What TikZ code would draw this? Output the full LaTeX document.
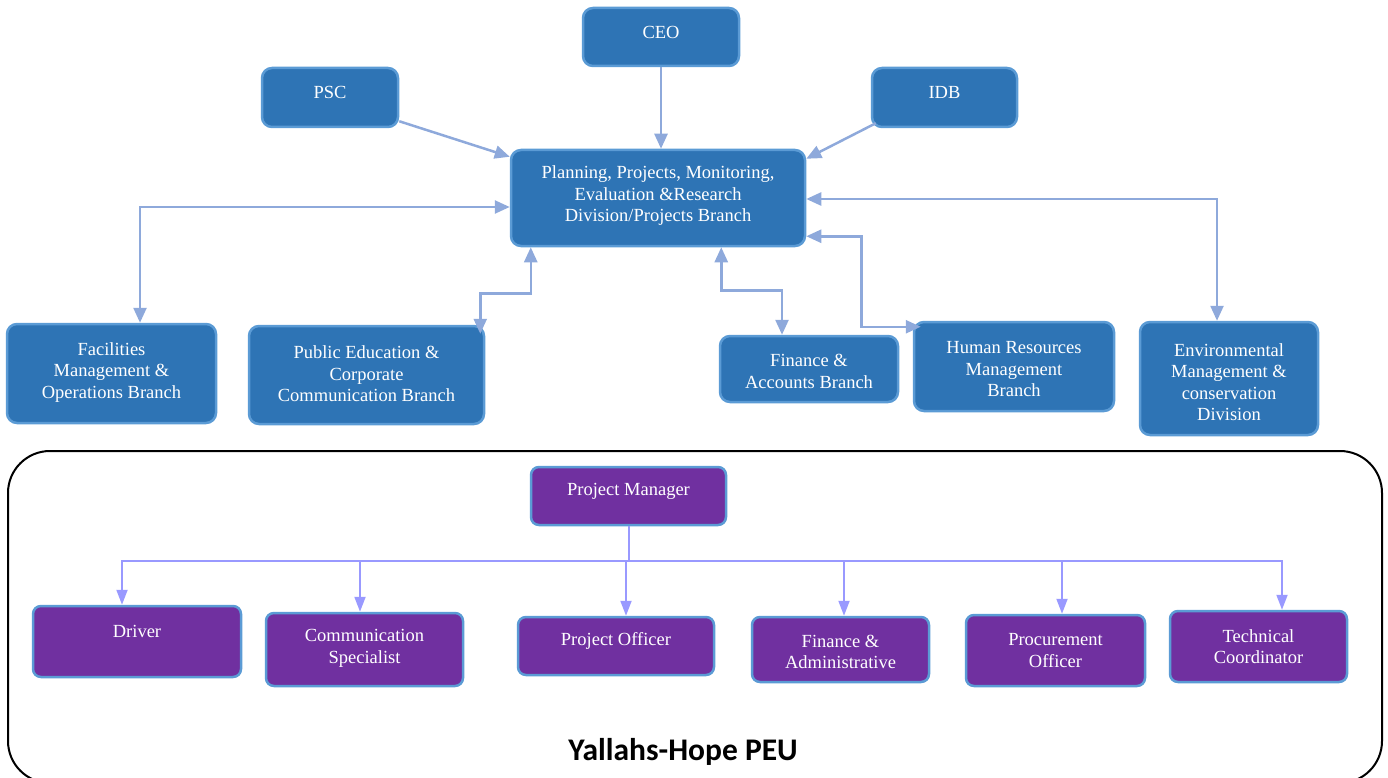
\documentclass[tikz,border=0pt]{standalone}
\usepackage{fontspec}
\setmainfont{Liberation Serif}
\newfontfamily\calib{Carlito}
\usetikzlibrary{arrows.meta,calc}
\definecolor{bfill}{HTML}{2E74B5}
\definecolor{bline}{HTML}{5B9BD5}
\definecolor{pfill}{HTML}{7030A0}
\definecolor{arrc}{HTML}{8EA9DB}
\definecolor{busc}{HTML}{9999FF}
\tikzset{
  bluebox/.style={draw=bline, fill=bfill, line width=2.5pt, rounded corners=10pt, inner sep=0pt},
  purplebox/.style={draw=bline, fill=pfill, line width=2.5pt, rounded corners=8pt, inner sep=0pt},
  wtxt/.style={text=white, align=center, inner sep=0pt, font=\rmfamily\fontsize{18.5}{21.5}\selectfont},
  conn/.style={draw=arrc, line width=2.5pt, -{Triangle[length=15pt,width=13pt]}},
  conn2/.style={draw=arrc, line width=2.5pt, {Triangle[length=15pt,width=13pt]}-{Triangle[length=15pt,width=13pt]}},
  busline/.style={draw=busc, line width=2pt, -{Triangle[length=15pt,width=11pt]}},
}
\begin{document}
\begin{tikzpicture}[x=1pt,y=-1pt]
\useasboundingbox (0,0) rectangle (1388,778);
% top blue boxes
\node[bluebox, minimum width=156pt, minimum height=58pt] (ceo) at (661,37) {};
\node[wtxt] (ceot) at (661,32) {CEO};
\node[bluebox, minimum width=136pt, minimum height=59pt] (psc) at (330,97.5) {};
\node[wtxt] (psct) at (330,92) {PSC};
\node[bluebox, minimum width=145pt, minimum height=59pt] (idb) at (944.5,97.5) {};
\node[wtxt] (idbt) at (944.5,92) {IDB};
\node[bluebox, minimum width=294pt, minimum height=96pt] (plan) at (658,198) {};
\node[wtxt] (plant) at (658,196) {Planning, Projects, Monitoring,\\Evaluation \&Research\\Division/Projects Branch};
\node[bluebox, minimum width=209pt, minimum height=99pt] (fac) at (111.5,373.5) {};
\node[wtxt] (fact) at (111.5,372.5) {Facilities\\Management \&\\Operations Branch};
\node[bluebox, minimum width=235pt, minimum height=98pt] (pub) at (366.5,375) {};
\node[wtxt] (pubt) at (366.5,374) {Public Education \&\\Corporate\\Communication Branch};
\node[bluebox, minimum width=178pt, minimum height=66pt] (fin) at (809,369) {};
\node[wtxt] (fint) at (809,371.5) {Finance \&\\Accounts Branch};
\node[bluebox, minimum width=200pt, minimum height=89pt] (hr) at (1014,366.5) {};
\node[wtxt] (hrt) at (1014,369.5) {Human Resources\\Management\\Branch};
\node[bluebox, minimum width=178pt, minimum height=113pt] (env) at (1229,378.5) {};
\node[wtxt] (envt) at (1229,382) {Environmental\\Management \&\\conservation\\Division};
% top connectors
\draw[conn] (ceo.south) -- (ceo.south |- plan.north);
\draw[conn] ([yshift=7pt]psc.south east) -- ([yshift=-8pt]plan.north west);
\draw[conn] ([xshift=5pt,yshift=5pt]idb.south west) -- ([yshift=-10pt]plan.north east);
\draw[conn2] ([xshift=28.5pt]fac.north) |- ([yshift=-9pt]plan.west);
\draw[conn2] ([xshift=21pt]plan.south west) -- ++(0,46) -| ([xshift=-5pt,yshift=-9pt]pub.north east);
\draw[conn2] ([xshift=-85pt]plan.south east) -- ++(0,43) -| ([xshift=-27pt]fin.north);
\draw[conn2] ([yshift=11pt]plan.south east) -- ++(55,0) |- ([xshift=8pt,yshift=-6pt]hr.north west);
\draw[conn2] ([yshift=-1pt]plan.east) -| ([xshift=-12pt]env.north);
% PEU frame
\node[draw=black, line width=2pt, rounded corners=42pt, minimum width=1374pt, minimum height=332pt, inner sep=0pt] (peu) at (695,617) {};
\node[font=\calib\bfseries\fontsize{31.5}{36}\selectfont, inner sep=0pt] (peut) at (683,752) {Yallahs-Hope PEU};
% purple boxes
\node[purplebox, minimum width=195pt, minimum height=58pt] (pm) at (628.5,496) {};
\node[wtxt] (pmt) at (628.5,491) {Project Manager};
\node[purplebox, minimum width=208pt, minimum height=71pt] (drv) at (137,641.5) {};
\node[wtxt] (drvt) at (137,631) {Driver};
\node[purplebox, minimum width=197pt, minimum height=73pt] (com) at (364.5,649.5) {};
\node[wtxt] (comt) at (364.5,648.5) {Communication\\Specialist};
\node[purplebox, minimum width=196pt, minimum height=58pt] (po) at (616,646) {};
\node[wtxt] (pot) at (616,641) {Project Officer};
\node[purplebox, minimum width=177pt, minimum height=65pt] (fa) at (840.5,649.5) {};
\node[wtxt] (fat) at (840.5,652) {Finance \&\\Administrative};
\node[purplebox, minimum width=179pt, minimum height=71pt] (proc) at (1055.5,650.5) {};
\node[wtxt] (proct) at (1055.5,650.5) {Procurement\\Officer};
\node[purplebox, minimum width=177pt, minimum height=71pt] (tech) at (1258.5,646.5) {};
\node[wtxt] (techt) at (1258.5,646.5) {Technical\\Coordinator};
% bus connectors
\draw[busline] (pm.south) -- ++(0,35) -| ([xshift=-15pt]drv.north);
\draw[busline] (pm.south) -- ++(0,35) -| ([xshift=-4.5pt]com.north);
\draw[busline] (pm.south) -- ++(0,35) -| ([xshift=10pt]po.north);
\draw[busline] (pm.south) -- ++(0,35) -| ([xshift=3.5pt]fa.north);
\draw[busline] (pm.south) -- ++(0,35) -| ([xshift=6.5pt]proc.north);
\draw[busline] (pm.south) -- ++(0,35) -| ([xshift=23.5pt]tech.north);
\end{tikzpicture}
\end{document}
